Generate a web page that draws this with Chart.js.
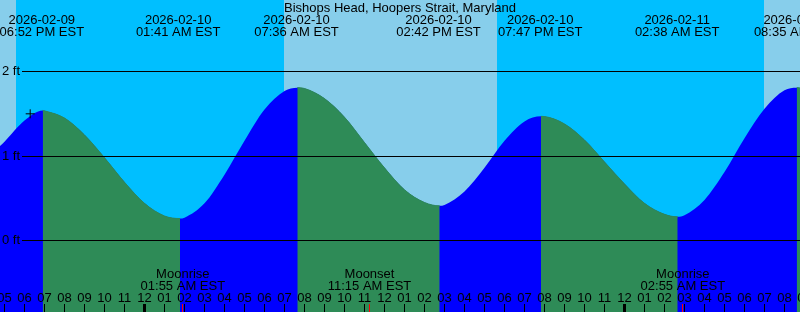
<!DOCTYPE html>
<html>
<head>
<meta charset="utf-8">
<script src="https://cdn.jsdelivr.net/npm/chart.js@4/dist/chart.umd.min.js"></script>
<style>
  html, body { margin: 0; padding: 0; background: #87ceeb; }
  canvas { display: block; }
</style>
</head>
<body>
<canvas id="tideChart" width="800" height="312"></canvas>
<script>
// hours are counted from 2026-02-10 00:00 EST
const curveHours = [-8, -7, -6, -5.09, -5, -4, -3, -2, -1, 0, 1, 1.775, 2, 3, 4, 5, 6, 7, 7.64,
    8, 9, 10, 11, 12, 13, 14, 14.76, 15, 16, 17, 18, 19, 19.825, 20, 21, 22, 23, 24, 25, 26, 26.66,
    27, 28, 29, 30, 31, 32, 32.61, 33];
const curveLevels = [0.95, 1.17, 1.42, 1.54, 1.535, 1.45, 1.25, 0.98, 0.69, 0.44, 0.29, 0.26, 0.27, 0.44, 0.78, 1.18, 1.55, 1.77, 1.81,
    1.80, 1.68, 1.46, 1.16, 0.86, 0.60, 0.45, 0.41, 0.42, 0.58, 0.86, 1.18, 1.41, 1.47, 1.468, 1.38, 1.19, 0.93, 0.67, 0.44, 0.31, 0.28,
    0.30, 0.48, 0.81, 1.21, 1.56, 1.78, 1.81, 1.80];

const tideHours = [-5.133, 1.683, 7.6, 14.7, 19.783, 26.633, 32.583];
const tideDates = ['2026-02-09', '2026-02-10', '2026-02-10', '2026-02-10', '2026-02-10', '2026-02-11', '2026-02-11'];
const tideTimes = ['06:52 PM EST', '01:41 AM EST', '07:36 AM EST', '02:42 PM EST', '07:47 PM EST', '02:38 AM EST', '08:35 AM EST'];

const moonHours = [1.917, 11.25, 26.917];
const moonEvents = ['Moonrise', 'Moonset', 'Moonrise'];
const moonTimes = ['01:55 AM EST', '11:15 AM EST', '02:55 AM EST'];

const nightStarts = [-6.417, 17.6];
const nightEnds = [6.983, 30.967];

const levelTicks = [0, 1, 2];
const levelLabels = ['0 ft', '1 ft', '2 ft'];

const nowHour = -5.715;
const nowLevel = 1.50;

const TITLE = 'Bishops Head, Hoopers Strait, Maryland';
const FONT = '13px "Liberation Sans", Arial, sans-serif';
const DAY = '#87ceeb';
const NIGHT = '#00bfff';
const RISING = '#0000ff';
const FALLING = '#2e8b57';
const NONE = 'rgba(0,0,0,0)';

const tidePoints = curveHours.map((h, i) => ({ x: h, y: curveLevels[i] }));

function hourLabel(h) {
    const hod = ((h % 24) + 24) % 24;
    return String(hod % 12 || 12).padStart(2, '0');
}

const skyPlugin = {
    id: 'sky',
    beforeDatasetsDraw(chart) {
        const { ctx, chartArea: a, scales: { x } } = chart;
        ctx.save();
        ctx.fillStyle = DAY;
        ctx.fillRect(a.left, a.top, a.right - a.left, a.bottom - a.top);
        ctx.fillStyle = NIGHT;
        nightStarts.forEach((s, i) => {
            const x0 = Math.max(a.left, Math.round(x.getPixelForValue(s)));
            const x1 = Math.min(a.right, Math.round(x.getPixelForValue(nightEnds[i])));
            ctx.fillRect(x0, a.top, x1 - x0, a.bottom - a.top);
        });
        ctx.restore();
    }
};

const overlayPlugin = {
    id: 'overlay',
    afterDatasetsDraw(chart) {
        const { ctx, chartArea: a, scales: { x, y } } = chart;
        ctx.save();
        ctx.font = FONT;
        ctx.fillStyle = '#000';

        // level lines
        levelTicks.forEach((v, i) => {
            const py = Math.floor(y.getPixelForValue(v));
            ctx.fillRect(22, py, a.right - 22, 1);
            ctx.textAlign = 'left';
            ctx.textBaseline = 'middle';
            ctx.fillText(levelLabels[i], 2, py + 0.5);
        });

        ctx.textBaseline = 'alphabetic';
        ctx.textAlign = 'center';
        ctx.fillText(TITLE, 400, 12);

        tideHours.forEach((h, i) => {
            const px = x.getPixelForValue(h);
            ctx.fillText(tideDates[i], px, 24);
            ctx.fillText(tideTimes[i], px, 36);
        });

        moonHours.forEach((h, i) => {
            const px = x.getPixelForValue(h);
            ctx.fillText(moonEvents[i], px, 278);
            ctx.fillText(moonTimes[i], px, 290);
        });

        // hour ticks
        for (let h = Math.ceil(x.min); h <= Math.floor(x.max) + 1; h++) {
            const px = x.getPixelForValue(h);
            const col = Math.floor(px);
            ctx.fillText(hourLabel(h), px, 302);
            if (((h % 24) + 24) % 24 === 0) ctx.fillRect(col - 1, 304, 3, 8);
            else ctx.fillRect(col, 304, 1, 8);
        }

        ctx.fillStyle = '#ff0000';
        moonHours.forEach(h => {
            ctx.fillRect(Math.floor(x.getPixelForValue(h)), 304, 1, 8);
        });
        ctx.restore();
    }
};

const falling = c => c.p1.parsed.y < c.p0.parsed.y;

new Chart(document.getElementById('tideChart'), {
    type: 'line',
    data: {
        datasets: [
            {
                data: [{ x: nowHour, y: nowLevel }],
                showLine: false,
                pointStyle: 'cross',
                pointRadius: 4.5,
                borderColor: '#000',
                borderWidth: 1,
                fill: false
            },
            // falling water painted over the rising fill
            {
                data: tidePoints,
                pointRadius: 0,
                borderWidth: 1,
                borderColor: NONE,
                cubicInterpolationMode: 'monotone',
                fill: 'start',
                backgroundColor: NONE,
                segment: {
                    backgroundColor: c => falling(c) ? FALLING : NONE,
                    borderColor: c => falling(c) ? FALLING : NONE
                }
            },
            {
                data: tidePoints,
                pointRadius: 0,
                borderWidth: 0,
                borderColor: NONE,
                cubicInterpolationMode: 'monotone',
                fill: 'start',
                backgroundColor: RISING
            }
        ]
    },
    options: {
        responsive: false,
        animation: false,
        events: [],
        layout: { padding: 0, autoPadding: false },
        plugins: {
            legend: { display: false },
            tooltip: { enabled: false }
        },
        scales: {
            x: { type: 'linear', min: -7.225, max: 32.775, display: false },
            y: { type: 'linear', min: -0.8467, max: 2.8478, display: false }
        }
    },
    plugins: [skyPlugin, overlayPlugin]
});
</script>
</body>
</html>
